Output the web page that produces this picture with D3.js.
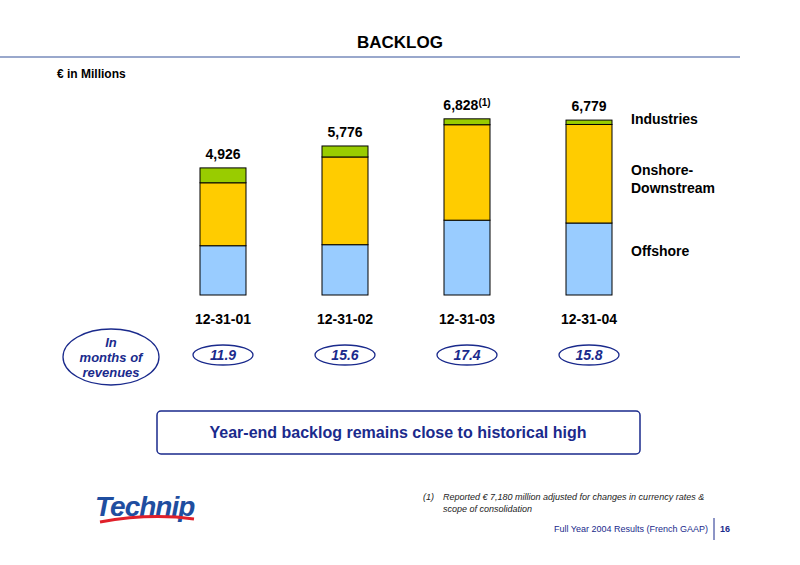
<!DOCTYPE html>
<html><head><meta charset="utf-8">
<script src="https://cdn.jsdelivr.net/npm/d3@7"></script>
<style>body{margin:0;background:#fff}svg{font-family:Arial,"Liberation Sans",sans-serif}</style>
</head><body>
<script>
const periods = ["12-31-01","12-31-02","12-31-03","12-31-04"];
const offshore = [1910,1950,2900,2790];
const onshore = [2440,3400,3700,3820];
const industries = [576,426,228,169];
const totals = ["4,926","5,776","6,828","6,779"];
const months = ["11.9","15.6","17.4","15.8"];
const seriesNames = ["Offshore","Onshore-\nDownstream","Industries"];
const colors = ["#99ccff","#ffcc00","#99cc00"];

const svg = d3.select("body").append("svg").attr("width",800).attr("height",565);
svg.append("text").attr("x",400).attr("y",48).attr("text-anchor","middle")
  .attr("font-size",17).attr("font-weight","bold").text("BACKLOG");
svg.append("line").attr("x1",0).attr("x2",740).attr("y1",57).attr("y2",57).attr("stroke","#99a8cc").attr("stroke-width",2);
svg.append("text").attr("x",57).attr("y",78).attr("font-size",12).attr("font-weight","bold").text("€ in Millions");

const x = d3.scaleBand().domain(periods).range([139,673]).paddingInner(0.623).paddingOuter(0.5);
const y = d3.scaleLinear().domain([0,7000]).range([295,295-7000*0.0258]);

const rows = periods.map((p,i)=>({p,Offshore:offshore[i],Onshore:onshore[i],Industries:industries[i]}));
const stack = d3.stack().keys(["Offshore","Onshore","Industries"])(rows);
stack.forEach((s,k)=>{
  svg.selectAll(null).data(s).enter().append("rect")
    .attr("x",d=>x(d.data.p)).attr("width",x.bandwidth())
    .attr("y",d=>y(d[1])).attr("height",d=>y(d[0])-y(d[1]))
    .attr("fill",colors[k]).attr("stroke","#000").attr("stroke-width",1);
});
const tot = periods.map((p,i)=>offshore[i]+onshore[i]+industries[i]);
periods.forEach((p,i)=>{
  const t = svg.append("text").attr("x",x(p)+x.bandwidth()/2).attr("y",y(tot[i])-9)
    .attr("text-anchor","middle").attr("font-size",14).attr("font-weight","bold").text(totals[i]);
  if(i===2) t.append("tspan").attr("font-size",10).attr("dy",-4).text("(1)");
  svg.append("text").attr("x",x(p)+x.bandwidth()/2).attr("y",324).attr("text-anchor","middle")
    .attr("font-size",14).attr("font-weight","bold").text(p);
  const cx = x(p)+x.bandwidth()/2;
  svg.append("ellipse").attr("cx",cx).attr("cy",355).attr("rx",30).attr("ry",10)
    .attr("fill","#fff").attr("stroke","#1a2a8c").attr("stroke-width",1.3);
  svg.append("text").attr("x",cx).attr("y",360).attr("text-anchor","middle").attr("font-size",14)
    .attr("font-weight","bold").attr("font-style","italic").attr("fill","#1a2a8c").text(months[i]);
});
[[seriesNames[2],124],[seriesNames[1],175],[seriesNames[0],256]].forEach(([n,yy])=>{
  const t = svg.append("text").attr("x",631).attr("y",yy).attr("font-size",14).attr("font-weight","bold");
  n.split("\n").forEach((l,j)=>t.append("tspan").attr("x",631).attr("dy",j?18:0).text(l));
});
svg.append("ellipse").attr("cx",111).attr("cy",357).attr("rx",48).attr("ry",28)
  .attr("fill","#fff").attr("stroke","#1a2a8c").attr("stroke-width",1.3);
const tt = svg.append("text").attr("font-size",13).attr("font-weight","bold").attr("font-style","italic")
  .attr("fill","#1a2a8c").attr("text-anchor","middle");
["In","months of","revenues"].forEach((l,j)=>tt.append("tspan").attr("x",111).attr("y",347+j*15).text(l));

svg.append("rect").attr("x",157).attr("y",411).attr("width",483).attr("height",43).attr("rx",4)
  .attr("fill","#fff").attr("stroke","#1a2a8c").attr("stroke-width",1.5);
svg.append("text").attr("x",398).attr("y",438).attr("text-anchor","middle").attr("font-size",16)
  .attr("font-weight","bold").attr("fill","#1a2a8c").text("Year-end backlog remains close to historical high");

svg.append("text").attr("x",95).attr("y",516).attr("font-size",28).attr("font-weight","bold")
  .attr("font-style","italic").attr("fill","#1f4ea0").attr("letter-spacing",-1).text("Technip");
svg.append("path").attr("d","M100,522 Q150,513 194,519").attr("stroke","#e0202a").attr("stroke-width",3).attr("fill","none");

const fn = svg.append("text").attr("font-size",9).attr("font-style","italic").attr("fill","#222");
fn.append("tspan").attr("x",423).attr("y",500).text("(1)");
fn.append("tspan").attr("x",443).attr("y",500).text("Reported € 7,180 million adjusted for changes in currency rates  &");
fn.append("tspan").attr("x",443).attr("y",512).text("scope of consolidation");
svg.append("text").attr("x",708).attr("y",532).attr("text-anchor","end").attr("font-size",9)
  .attr("fill","#1a2a8c").text("Full Year 2004 Results (French GAAP)");
svg.append("line").attr("x1",714).attr("x2",714).attr("y1",518).attr("y2",540).attr("stroke","#1a2a8c");
svg.append("text").attr("x",720).attr("y",532).attr("font-size",9).attr("font-weight","bold")
  .attr("fill","#1a2a8c").text("16");
</script>
</body></html>
